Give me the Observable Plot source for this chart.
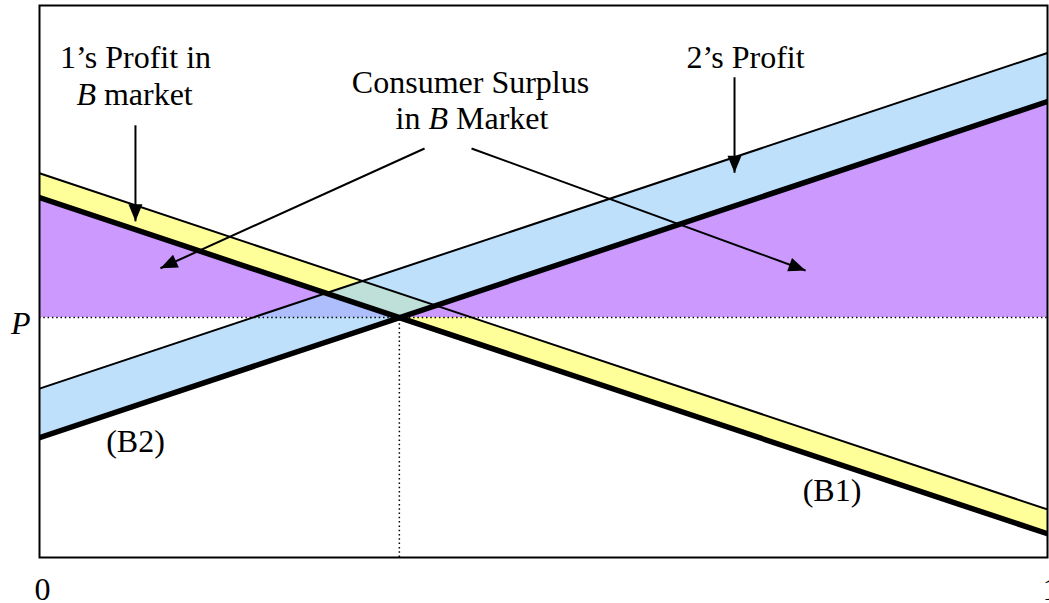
<!DOCTYPE html>
<html><head><meta charset="utf-8">
<script src="https://cdn.jsdelivr.net/npm/d3@7"></script>
<script src="https://cdn.jsdelivr.net/npm/@observablehq/plot@0.6"></script>
<style>body{margin:0;background:#fff}</style>
</head><body><div id="chart"></div>
<script>
// ---- data ----
const xEnds = [0, 1];
const b1 = [65.2, 4.3];          // (B1) thick line
const b1Upper = [69.6, 8.7];     // top edge of 1's profit band
const b2 = [21.7, 82.6];         // (B2) thick line
const b2Upper = [30.6, 91.4];    // top edge of 2's profit band
const priceP = 43.5;
const crossX = 0.357;
const surplusX = [0, 0.357, 1];
const surplusTop = [65.2, 43.5, 82.6];
const xTicks = [0, 1];
const xTickLabels = ["0", "1"];
const yTicks = [43.5];
const yTickLabels = ["P"];
const arrowFrom = [[0.0952, 78.3], [0.6895, 87.0], [0.382, 74.1], [0.4286, 74.1]];
const arrowTo = [[0.0952, 60.9], [0.6895, 69.7], [0.120, 52.4], [0.760, 52.0]];

// ---- annotations ----
const labels = [
  {text: "1\u2019s Profit in", x: 0.0952, y: 88.6, anchor: "middle", italic: false},
  {text: "B", x: 0.0560, y: 81.9, anchor: "end", italic: true},
  {text: "market", x: 0.0639, y: 81.9, anchor: "start", italic: false},
  {text: "Consumer Surplus", x: 0.4276, y: 84.2, anchor: "middle", italic: false},
  {text: "in", x: 0.3532, y: 77.7, anchor: "start", italic: false},
  {text: "B", x: 0.3858, y: 77.7, anchor: "start", italic: true},
  {text: "Market", x: 0.4132, y: 77.7, anchor: "start", italic: false},
  {text: "2\u2019s Profit", x: 0.7004, y: 88.6, anchor: "middle", italic: false},
  {text: "(B2)", x: 0.0952, y: 19.2, anchor: "middle", italic: false},
  {text: "(B1)", x: 0.7862, y: 10.3, anchor: "middle", italic: false}
];

const rows = xEnds.map((x, i) => ({x, b1: b1[i], b1u: b1Upper[i], b2: b2[i], b2u: b2Upper[i]}));
const surplus = surplusX.map((x, i) => ({x, top: surplusTop[i]}));
const arrows = arrowFrom.map((f, i) => ({x1: f[0], y1: f[1], x2: arrowTo[i][0], y2: arrowTo[i][1]}));

const W = 1049, H = 603, mL = 39, mR = 2, mT = 5, mB = 46;
const kx = W - mL - mR, ky = (H - mT - mB) / 100;
const head = {draw(ctx) { ctx.moveTo(0, 0); ctx.lineTo(-7, 17); ctx.lineTo(7, 17); ctx.closePath(); }};
const font = "'Liberation Serif','Times New Roman',serif";

function textGroup(anchor, italic) {
  return Plot.text(labels, {
    filter: d => d.anchor === anchor && d.italic === italic,
    x: "x", y: "y", text: "text", textAnchor: anchor, lineAnchor: "bottom",
    fontSize: 32, fontFamily: font, fontStyle: italic ? "italic" : "normal", fill: "black"
  });
}

const chart = Plot.plot({
  width: W, height: H, marginLeft: mL, marginRight: mR, marginTop: mT, marginBottom: mB,
  x: {domain: [0, 1], axis: null, label: null},
  y: {domain: [0, 100], axis: null, label: null},
  style: {background: "#fff"},
  marks: [
    Plot.areaY(rows, {x: "x", y1: "b1", y2: "b1u", fill: "#ffff99"}),
    Plot.areaY(surplus, {x: "x", y1: priceP, y2: "top", fill: "#cc99ff"}),
    Plot.areaY(rows, {x: "x", y1: "b2", y2: "b2u", fill: "rgb(158,208,249)", fillOpacity: 0.66}),
    Plot.ruleY([priceP], {stroke: "black", strokeWidth: 1.5, strokeDasharray: "1.5,2.8"}),
    Plot.ruleX([crossX], {y1: 0, y2: priceP, stroke: "black", strokeWidth: 1.5, strokeDasharray: "1.5,2.8"}),
    Plot.line(rows, {x: "x", y: "b1u", stroke: "black", strokeWidth: 2, clip: true}),
    Plot.line(rows, {x: "x", y: "b2u", stroke: "black", strokeWidth: 2, clip: true}),
    Plot.line(rows, {x: "x", y: "b1", stroke: "black", strokeWidth: 5.5, clip: true}),
    Plot.line(rows, {x: "x", y: "b2", stroke: "black", strokeWidth: 5.5, clip: true}),
    Plot.link(arrows, {x1: "x1", y1: "y1", x2: "x2", y2: "y2", stroke: "black", strokeWidth: 2}),
    Plot.dot(arrows, {
      x: "x2", y: "y2", symbol: head, r: 8, fill: "black", stroke: "none",
      rotate: d => Math.atan2((d.x2 - d.x1) * kx, (d.y2 - d.y1) * ky) * 180 / Math.PI
    }),
    Plot.frame({stroke: "black", strokeWidth: 2}),
    Plot.axisX(xTicks, {
      tickFormat: d => xTickLabels[xTicks.indexOf(d)], tickSize: 0, tickPadding: 20,
      fontSize: 32, fontFamily: font, dx: 3, label: null
    }),
    Plot.axisY(yTicks, {
      tickFormat: d => yTickLabels[yTicks.indexOf(d)], tickSize: 0, tickPadding: 9,
      fontSize: 32, fontFamily: font, fontStyle: "italic", dy: 6, label: null
    }),
    textGroup("middle", false),
    textGroup("start", false),
    textGroup("start", true),
    textGroup("end", true)
  ]
});
document.getElementById("chart").appendChild(chart);
</script>
</body></html>
